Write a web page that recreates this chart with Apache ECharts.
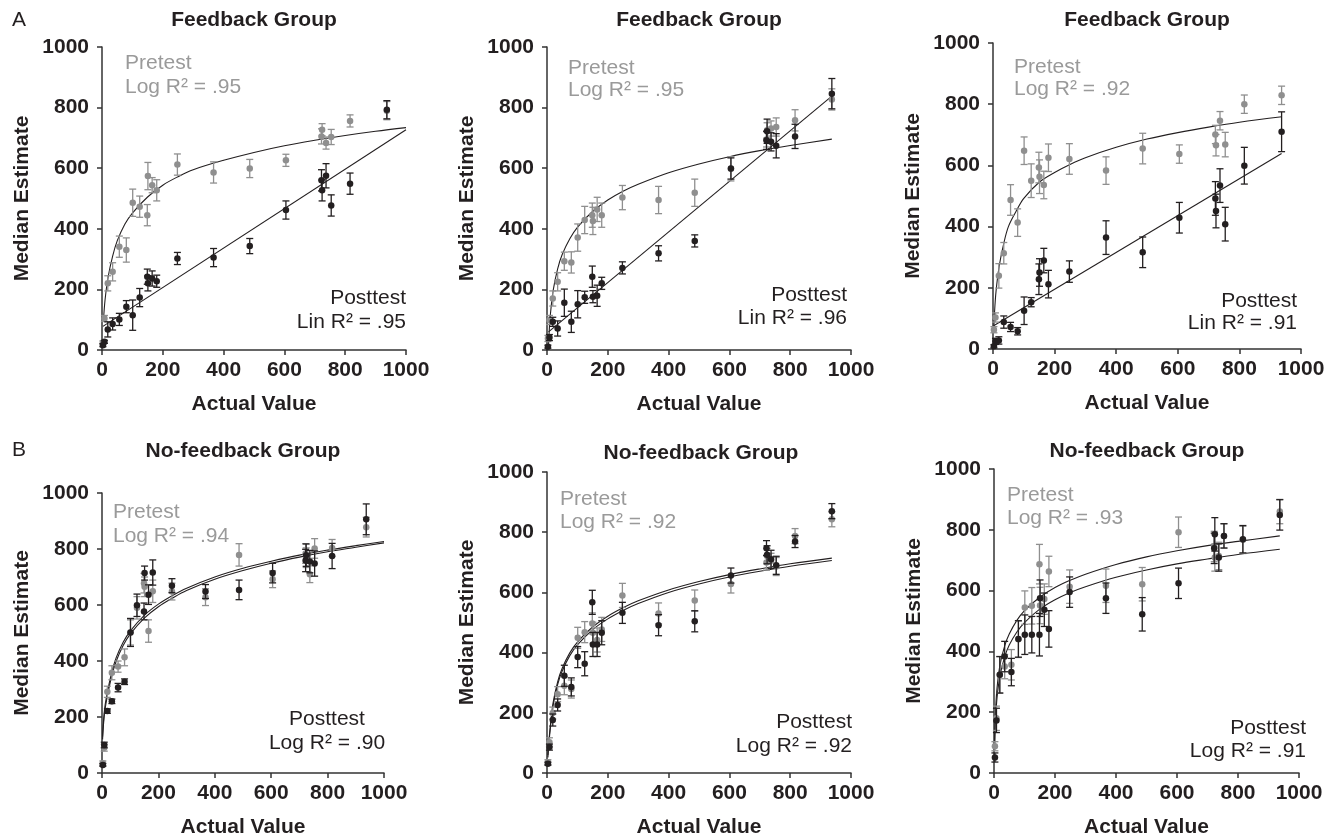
<!DOCTYPE html>
<html><head><meta charset="utf-8">
<script src="https://cdn.jsdelivr.net/npm/echarts@6/dist/echarts.min.js"></script>
<style>html,body{margin:0;padding:0;background:#fff}#c{width:1336px;height:839px}</style>
</head><body><div id="c"></div>
<script>
// ---- shared category/tick data ----
const actualValues = [3, 8, 19, 35, 57, 80, 101, 124, 149, 151, 165, 180, 248, 367, 486, 605, 722, 724, 737, 754, 816, 937];
const axisTicks = [0, 200, 400, 600, 800, 1000];
const panelTitles = ['Feedback Group', 'Feedback Group', 'Feedback Group', 'No-feedback Group', 'No-feedback Group', 'No-feedback Group'];
const preLabels = ['Log R² = .95', 'Log R² = .95', 'Log R² = .92', 'Log R² = .94', 'Log R² = .92', 'Log R² = .93'];
const postLabels = ['Lin R² = .95', 'Lin R² = .96', 'Lin R² = .91', 'Log R² = .90', 'Log R² = .92', 'Log R² = .91'];

// ---- Panel A1 ----
const preA1 = [25, 104, 220, 258, 341, 330, 486, 473, 445, 574, 544, 527, 612, 586, 599, 626, 705, 727, 683, 703, 756, 790];
const preErrA1 = [5, 10, 25, 30, 35, 40, 45, 35, 35, 45, 25, 35, 35, 35, 30, 20, 25, 20, 20, 25, 20, 30];
const postA1 = [16, 27, 68, 86, 101, 143, 115, 173, 242, 220, 236, 227, 302, 305, 343, 462, 560, 527, 575, 477, 549, 793];
const postErrA1 = [5, 5, 25, 20, 20, 20, 50, 30, 25, 25, 25, 20, 20, 30, 25, 30, 35, 35, 40, 35, 35, 30];
const fitPreA1 = [[5,99],[10,165],[20,240],[35,310],[50,360],[75,415],[100,452],[150,505],[200,544],[250,572],[300,595],[400,626],[500,652],[600,674],[700,692],[800,708],[900,722],[1000,734]];
const fitPostA1 = [[3,78],[1000,727]];

// ---- Panel A2 ----
const preA2 = [38, 99, 170, 225, 293, 289, 371, 429, 445, 426, 464, 445, 503, 495, 519, 598, 695, 725, 731, 736, 758, 827];
const preErrA2 = [10, 15, 25, 30, 30, 35, 45, 45, 40, 45, 40, 40, 40, 45, 45, 40, 25, 25, 25, 30, 35, 35];
const postA2 = [11, 41, 93, 71, 156, 93, 151, 174, 242, 176, 179, 220, 271, 319, 360, 599, 692, 722, 687, 674, 705, 846];
const postErrA2 = [5, 10, 15, 25, 45, 35, 45, 20, 35, 20, 35, 20, 20, 25, 20, 35, 30, 40, 30, 40, 40, 50];
const fitPreA2 = [[5,15],[8,76],[10,105],[20,195],[35,268],[50,315],[75,367],[100,405],[150,457],[200,495],[250,524],[300,547],[400,585],[500,614],[600,638],[700,658],[800,675],[937,696]];
const fitPostA2 = [[5,60],[937,838]];

// ---- Panel A3 ----
const preA3 = [63, 103, 239, 313, 487, 413, 648, 550, 593, 563, 536, 625, 621, 583, 655, 637, 701, 666, 746, 668, 800, 829];
const preErrA3 = [10, 15, 40, 35, 50, 45, 45, 55, 50, 55, 45, 45, 50, 45, 50, 30, 30, 35, 30, 40, 30, 30];
const postA3 = [9, 25, 28, 88, 72, 58, 125, 153, 228, 250, 289, 212, 253, 364, 316, 429, 492, 451, 534, 408, 599, 710];
const postErrA3 = [5, 10, 12, 20, 15, 12, 45, 15, 50, 45, 40, 45, 35, 55, 50, 50, 55, 55, 55, 55, 60, 65];
const fitPreA3 = [[3,70],[5,120],[10,190],[20,270],[35,345],[50,400],[75,450],[100,492],[150,545],[200,577],[250,603],[300,625],[400,659],[500,686],[600,707],[700,725],[800,741],[938,759]];
const fitPostA3 = [[2,76],[937,639]];

// ---- Panel B1 ----
const preB1 = [35, 90, 290, 358, 380, 413, 502, 590, 678, 665, 507, 649, 648, 628, 779, 692, 784, 769, 710, 802, 804, 878];
const preErrB1 = [8, 12, 20, 25, 20, 30, 45, 40, 35, 35, 40, 40, 30, 30, 40, 30, 35, 35, 30, 35, 30, 35];
const postB1 = [29, 100, 221, 256, 305, 326, 502, 599, 577, 714, 637, 716, 669, 648, 654, 714, 759, 778, 755, 748, 775, 906];
const postErrB1 = [5, 10, 8, 8, 15, 10, 50, 40, 30, 25, 35, 45, 25, 25, 35, 35, 40, 40, 40, 45, 45, 55];
const fitPreB1 = [[2,130],[5,180],[10,235],[20,293],[35,361],[50,411],[75,467],[100,507],[150,563],[200,603],[250,634],[300,660],[400,700],[500,731],[600,756],[700,778],[800,796],[900,812],[1000,827]];
const fitPostB1 = [[2,120],[5,170],[10,222],[20,280],[35,348],[50,398],[75,455],[100,496],[150,553],[200,594],[250,625],[300,652],[400,692],[500,723],[600,749],[700,771],[800,790],[900,806],[1000,822]];

// ---- Panel B2 ----
const preB2 = [36, 102, 199, 262, 290, 279, 449, 468, 497, 466, 442, 477, 590, 530, 573, 628, 699, 721, 705, 686, 787, 843];
const preErrB2 = [8, 15, 20, 25, 30, 30, 35, 35, 35, 35, 40, 40, 40, 35, 35, 30, 25, 25, 25, 30, 25, 25];
const postB2 = [31, 86, 176, 226, 323, 286, 385, 363, 567, 427, 427, 466, 532, 491, 504, 656, 747, 725, 710, 690, 769, 870];
const postErrB2 = [5, 10, 20, 20, 35, 30, 35, 40, 40, 40, 40, 40, 35, 35, 35, 25, 25, 30, 30, 30, 20, 25];
const fitPreB2 = [[3,60],[5,90],[10,147],[20,233],[35,303],[50,348],[75,399],[100,435],[150,485],[200,521],[250,549],[300,572],[400,608],[500,636],[600,659],[700,678],[800,695],[937,714]];
const fitPostB2 = [[3,52],[5,82],[10,139],[20,224],[35,294],[50,339],[75,390],[100,426],[150,476],[200,512],[250,540],[300,563],[400,600],[500,628],[600,651],[700,670],[800,687],[937,706]];

// ---- Panel B3 ----
const preB3 = [88, 180, 323, 350, 356, 440, 544, 550, 687, 551, 572, 663, 613, 616, 621, 792, 745, 709, 714, 780, 767, 860];
const preErrB3 = [15, 40, 60, 40, 50, 60, 55, 60, 65, 60, 50, 50, 55, 55, 55, 50, 50, 45, 45, 40, 45, 40];
const postB3 = [51, 173, 323, 383, 332, 441, 455, 455, 455, 575, 537, 474, 595, 575, 522, 624, 739, 785, 709, 780, 769, 849];
const postErrB3 = [15, 40, 60, 50, 45, 60, 65, 60, 70, 60, 55, 60, 50, 50, 55, 50, 50, 55, 45, 40, 45, 50];
const fitPreB3 = [[2,103],[3,148],[5,204],[10,280],[20,357],[35,418],[50,457],[75,502],[100,534],[150,578],[200,610],[250,634],[300,654],[400,686],[500,711],[600,731],[700,748],[800,762],[937,780]];
const fitPostB3 = [[2,75],[3,118],[5,173],[10,248],[20,322],[35,382],[50,421],[75,464],[100,495],[150,539],[200,570],[250,594],[300,613],[400,644],[500,668],[600,688],[700,704],[800,719],[937,736]];

// ---- assemble ----
const FONT = '"Liberation Sans", Arial, Helvetica, sans-serif';
const FS = 21;
const GRAY = '#8f8f8f', GRAY_TXT = '#9a9a9a', DARK = '#231f20';

const panelData = [
  {pre: preA1, preErr: preErrA1, post: postA1, postErr: postErrA1, fitPre: fitPreA1, fitPost: fitPostA1},
  {pre: preA2, preErr: preErrA2, post: postA2, postErr: postErrA2, fitPre: fitPreA2, fitPost: fitPostA2},
  {pre: preA3, preErr: preErrA3, post: postA3, postErr: postErrA3, fitPre: fitPreA3, fitPost: fitPostA3},
  {pre: preB1, preErr: preErrB1, post: postB1, postErr: postErrB1, fitPre: fitPreB1, fitPost: fitPostB1},
  {pre: preB2, preErr: preErrB2, post: postB2, postErr: postErrB2, fitPre: fitPreB2, fitPost: fitPostB2},
  {pre: preB3, preErr: preErrB3, post: postB3, postErr: postErrB3, fitPre: fitPreB3, fitPost: fitPostB3}
];

// layout (pixels)
const grids = [
  {left: 102, top: 47, width: 304, height: 303},
  {left: 547, top: 47, width: 304, height: 303},
  {left: 993, top: 43, width: 308, height: 306},
  {left: 102, top: 493, width: 282, height: 284},
  {left: 547, top: 472, width: 304, height: 302},
  {left: 994, top: 469, width: 305, height: 304}
];
const titlePos = [[254, 20], [699, 20], [1147, 20], [243, 451], [701, 453], [1147, 451]];
const prePos = [[125, 63, 87], [568, 68, 90], [1014, 67, 89], [113, 512, 536], [560, 499, 522], [1007, 495, 518]];
const postPos = [[406, 298, 322, 'right'], [847, 295, 318, 'right'], [1297, 301, 323, 'right'], [327, 719, 743, 'center'], [852, 722, 746, 'right'], [1306, 728, 751, 'right']];

function errRender(color) {
  return function (params, api) {
    const x = api.value(0), y = api.value(1), e = api.value(2);
    const lo = api.coord([x, y - e]), hi = api.coord([x, y + e]);
    const w = 3.5;
    const st = {stroke: color, lineWidth: 1.3};
    return {type: 'group', children: [
      {type: 'line', shape: {x1: lo[0], y1: lo[1], x2: hi[0], y2: hi[1]}, style: st},
      {type: 'line', shape: {x1: lo[0] - w, y1: lo[1], x2: lo[0] + w, y2: lo[1]}, style: st},
      {type: 'line', shape: {x1: hi[0] - w, y1: hi[1], x2: hi[0] + w, y2: hi[1]}, style: st}
    ]};
  };
}

const xAxes = [], yAxes = [], series = [], graphics = [];
const tickMin = axisTicks[0], tickMax = axisTicks[axisTicks.length - 1], tickStep = axisTicks[1] - axisTicks[0];

grids.forEach((g, i) => {
  const labelBase = {color: DARK, fontFamily: FONT, fontWeight: 'bold', fontSize: FS, showMinLabel: true, showMaxLabel: true, formatter: v => String(v)};
  const axCommon = {
    gridIndex: i, type: 'value', min: tickMin, max: tickMax, interval: tickStep,
    splitLine: {show: false},
    axisLine: {show: true, onZero: false, lineStyle: {color: '#333', width: 1.5}},
    axisTick: {show: true, inside: false, length: 5, lineStyle: {color: '#333', width: 1.5}},
    nameLocation: 'middle',
    nameTextStyle: {color: DARK, fontFamily: FONT, fontWeight: 'bold', fontSize: FS}
  };
  xAxes.push(Object.assign({}, axCommon, {name: 'Actual Value', nameGap: 44, axisLabel: Object.assign({}, labelBase, {margin: 10})}));
  yAxes.push(Object.assign({}, axCommon, {name: 'Median Estimate', nameGap: 69, nameRotate: 90, axisLabel: Object.assign({}, labelBase, {margin: 13})}));

  const d = panelData[i];
  const lineBase = {type: 'line', xAxisIndex: i, yAxisIndex: i, showSymbol: false, smooth: 0.35, lineStyle: {color: DARK, width: 1.1}, z: 1, silent: true};
  series.push(Object.assign({}, lineBase, {data: d.fitPre}));
  series.push(Object.assign({}, lineBase, {data: d.fitPost}));
  series.push({type: 'custom', xAxisIndex: i, yAxisIndex: i, renderItem: errRender(GRAY), encode: {x: 0, y: 1},
    data: actualValues.map((x, k) => [x, d.pre[k], d.preErr[k]]), z: 2, silent: true});
  series.push({type: 'scatter', xAxisIndex: i, yAxisIndex: i, symbolSize: 6.5, itemStyle: {color: GRAY, opacity: 1},
    data: actualValues.map((x, k) => [x, d.pre[k]]), z: 3});
  series.push({type: 'custom', xAxisIndex: i, yAxisIndex: i, renderItem: errRender(DARK), encode: {x: 0, y: 1},
    data: actualValues.map((x, k) => [x, d.post[k], d.postErr[k]]), z: 4, silent: true});
  series.push({type: 'scatter', xAxisIndex: i, yAxisIndex: i, symbolSize: 6.5, itemStyle: {color: DARK, opacity: 1},
    data: actualValues.map((x, k) => [x, d.post[k]]), z: 5});

  graphics.push({type: 'text', x: titlePos[i][0], y: titlePos[i][1], style: {text: panelTitles[i], fill: DARK, font: 'bold ' + FS + 'px ' + FONT, textAlign: 'center', textVerticalAlign: 'middle'}});
  graphics.push({type: 'text', x: prePos[i][0], y: prePos[i][1], style: {text: 'Pretest', fill: GRAY_TXT, font: FS + 'px ' + FONT, textAlign: 'left', textVerticalAlign: 'middle'}});
  graphics.push({type: 'text', x: prePos[i][0], y: prePos[i][2], style: {text: preLabels[i], fill: GRAY_TXT, font: FS + 'px ' + FONT, textAlign: 'left', textVerticalAlign: 'middle'}});
  const pp = postPos[i];
  graphics.push({type: 'text', x: pp[0], y: pp[1], style: {text: 'Posttest', fill: DARK, font: FS + 'px ' + FONT, textAlign: pp[3], textVerticalAlign: 'middle'}});
  graphics.push({type: 'text', x: pp[0], y: pp[2], style: {text: postLabels[i], fill: DARK, font: FS + 'px ' + FONT, textAlign: pp[3], textVerticalAlign: 'middle'}});
});
graphics.push({type: 'text', x: 12, y: 20, style: {text: 'A', fill: DARK, font: FS + 'px ' + FONT, textAlign: 'left', textVerticalAlign: 'middle'}});
graphics.push({type: 'text', x: 12, y: 450, style: {text: 'B', fill: DARK, font: FS + 'px ' + FONT, textAlign: 'left', textVerticalAlign: 'middle'}});

const chart = echarts.init(document.getElementById('c'), null, {renderer: 'canvas'});
chart.setOption({
  animation: false,
  backgroundColor: '#fff',
  grid: grids.map(g => Object.assign({containLabel: false}, g)),
  xAxis: xAxes,
  yAxis: yAxes,
  series: series,
  graphic: graphics
});
</script></body></html>
